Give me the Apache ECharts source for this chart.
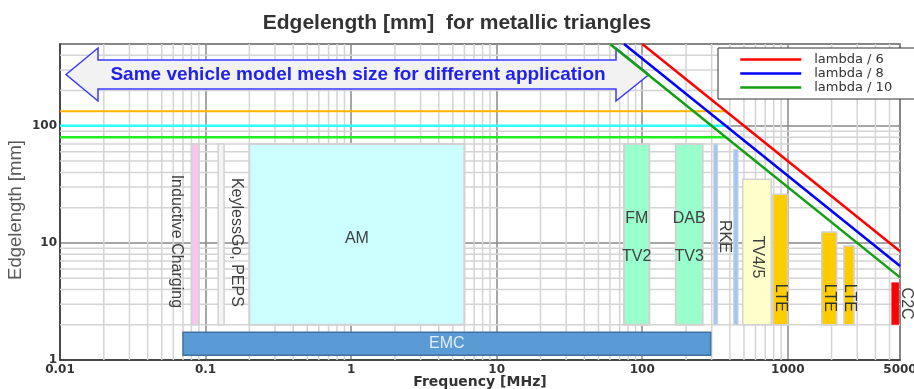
<!DOCTYPE html>
<html><head><meta charset="utf-8">
<script src="https://cdn.jsdelivr.net/npm/echarts@6/dist/echarts.min.js"></script>
<style>html,body{margin:0;padding:0;background:#fff}#c{width:914px;height:389px}</style>
</head><body><div id="c"></div>
<script>
// ---- axis data ----
const xTickLabels = ['0.01', '0.1', '1', '10', '100', '1000', '5000'];
const yTickLabels = ['1', '10', '100'];
const xMin = 0.01, xMax = 5900, yMin = 1, yMax = 500;

// ---- lambda lines [frequency MHz, edge length mm] ----
const lambda6 = [[100, 500], [5900, 8.5]];
const lambda8 = [[75, 500], [5900, 6.36]];
const lambda10 = [[60, 500], [5900, 5.08]];
// ---- horizontal mesh-size lines ----
const meshOrange = [[0.01, 133], [375, 133]];
const meshCyan = [[0.01, 100], [375, 100]];
const meshGreen = [[0.01, 80], [375, 80]];

// ---- application bands ----
const bandLabels = ['Inductive Charging', 'KeylessGo, PEPS', 'AM', 'FM\nTV2', 'DAB\nTV3', 'RKE', '', 'TV4/5', 'LTE', 'LTE', 'LTE', 'C2C', 'EMC'];
const bandFrom   = [0.08, 0.122, 0.2, 75, 170, 310, 425, 490, 790, 1710, 2430, 5150, 0.07];
const bandTo     = [0.09, 0.134, 6, 112, 260, 330, 455, 770, 1000, 2170, 2850, 5800, 295];
const bandBottom = [2, 2, 2, 2, 2, 2, 2, 2, 2, 2, 2, 2, 1.1];
const bandTop    = [70, 70, 70, 70, 70, 70, 63, 35, 26, 12.4, 9.4, 4.6, 1.73];

// ---- minor grid values ----
const xMinorGrid = [0.02, 0.03, 0.04, 0.05, 0.06, 0.07, 0.08, 0.09,
  0.2, 0.3, 0.4, 0.5, 0.6, 0.7, 0.8, 0.9,
  2, 3, 4, 5, 6, 7, 8, 9,
  20, 30, 40, 50, 60, 70, 80, 90,
  200, 300, 400, 500, 600, 700, 800, 900,
  2000, 3000, 4000, 5000];
const yMinorGrid = [2, 3, 4, 5, 6, 7, 8, 9, 20, 30, 40, 50, 60, 70, 80, 90, 200, 300, 400];

// ---- styles (not data) ----
const GRAY_B = '#d2d2d2';
const bandStyles = [
  {fill: '#f7c6ef', stroke: GRAY_B, lw: 1.5},
  {fill: '#f4f4f4', stroke: GRAY_B, lw: 1.5},
  {fill: '#ccffff', stroke: GRAY_B, lw: 2},
  {fill: '#99ffcc', stroke: GRAY_B, lw: 2},
  {fill: '#99ffcc', stroke: GRAY_B, lw: 2},
  {fill: '#9dc8f5', stroke: GRAY_B, lw: 1},
  {fill: '#9dc8f5', stroke: GRAY_B, lw: 1},
  {fill: '#ffffcc', stroke: GRAY_B, lw: 1.5},
  {fill: '#ffcc00', stroke: GRAY_B, lw: 1.5},
  {fill: '#ffcc00', stroke: GRAY_B, lw: 1.5},
  {fill: '#ffcc00', stroke: GRAY_B, lw: 1.5},
  {fill: '#ff0000', stroke: null, lw: 0},
  {fill: '#5b9bd5', stroke: '#41719c', lw: 1.5}
];
const labelPlacement = [
  {at: 'left', dx: -15, dy: 7, rot: true},
  {at: 'right', dx: 12, dy: 8, rot: true},
  {dy: 4},
  {dy: 3, lh: 38},
  {dy: 3, lh: 38},
  {at: 'right', dx: 7, dy: 2, rot: true},
  null,
  {dy: 5, rot: true},
  {fromBottom: 27, rot: true, color: '#333'},
  {fromBottom: 27, rot: true, color: '#333'},
  {fromBottom: 27, rot: true, color: '#333'},
  {at: 'right', dx: 7, dy: 0, rot: true},
  {dy: 0, color: '#e3eefa'}
];

function renderBand(params, api) {
  const i = params.dataIndex;
  const p0 = api.coord([api.value(0), api.value(3)]);
  const p1 = api.coord([api.value(1), api.value(2)]);
  const x = p0[0], y = p0[1], w = p1[0] - p0[0], h = p1[1] - p0[1];
  const st = bandStyles[i];
  const children = [{
    type: 'rect', shape: {x: x, y: y, width: w, height: h},
    style: {fill: st.fill, stroke: st.stroke, lineWidth: st.lw}
  }];
  const lab = bandLabels[i];
  const L = labelPlacement[i];
  if (lab && L) {
    let cx, cy;
    if (L.at === 'left') cx = x + L.dx;
    else if (L.at === 'right') cx = x + w + L.dx;
    else cx = x + w / 2 + (L.dx || 0);
    if (L.fromBottom) cy = y + h - L.fromBottom;
    else cy = y + h / 2 + (L.dy || 0);
    children.push({
      type: 'text', x: cx, y: cy, rotation: L.rot ? -Math.PI / 2 : 0,
      style: {
        text: lab, fill: L.color || '#404040', fontSize: 16,
        fontFamily: '"Liberation Sans", Arial, sans-serif',
        align: 'center', verticalAlign: 'middle', lineHeight: L.lh || 18
      }
    });
  }
  return {type: 'group', children: children};
}

// grid lines drawn through the axes' scales
function renderVGrid(params, api) {
  const cs = params.coordSys;
  const px = api.coord([api.value(0), yMin])[0];
  return {type: 'line', shape: {x1: px, y1: cs.y, x2: px, y2: cs.y + cs.height},
    style: {stroke: '#d4d4d4', lineWidth: 1.5}};
}
function renderHGrid(params, api) {
  const cs = params.coordSys;
  const py = api.coord([xMin, api.value(1)])[1];
  return {type: 'line', shape: {x1: cs.x, y1: py, x2: cs.x + cs.width, y2: py},
    style: {stroke: '#d4d4d4', lineWidth: 1.5}};
}

function xLabel(v) {
  if (v > 4000) return xTickLabels[xTickLabels.length - 1];
  const idx = Math.round(Math.log10(v)) + 2;
  const target = Math.pow(10, idx - 2);
  if (Math.abs(v / target - 1) < 0.01) return xTickLabels[idx] || '';
  return '';
}
function yLabel(v) {
  const idx = Math.round(Math.log10(v));
  if (Math.abs(v / Math.pow(10, idx) - 1) < 0.01) return yTickLabels[idx] || '';
  return '';
}

const chart = echarts.init(document.getElementById('c'), null, {renderer: 'canvas'});
const lineCommon = {type: 'line', symbol: 'none', showSymbol: false, silent: true, z: 4};

chart.setOption({
  animation: false,
  backgroundColor: '#fff',
  title: {
    text: 'Edgelength [mm]  for metallic triangles', left: 'center', top: 8,
    textStyle: {fontSize: 21, fontWeight: 'bold', color: '#333', fontFamily: '"Liberation Sans", Arial, sans-serif'}
  },
  grid: {left: 60, right: 14, top: 44, bottom: 29, containLabel: false, outerBoundsMode: 'none',
    show: true, borderColor: '#555', borderWidth: 1.5, backgroundColor: 'transparent'},
  legend: {
    orient: 'vertical', left: 718, top: 48, padding: [5, 40, 5, 21], itemGap: 1,
    itemWidth: 61, itemHeight: 13,
    backgroundColor: '#fff', borderColor: '#333', borderWidth: 1,
    itemStyle: {opacity: 0},
    lineStyle: {width: 2.5},
    data: ['lambda / 6', 'lambda / 8', 'lambda / 10'],
    formatter: function (n) { return '{g|}' + n; },
    textStyle: {fontFamily: '"DejaVu Sans", sans-serif', fontSize: 13, color: '#333', lineHeight: 13, rich: {g: {width: 8}}}
  },
  xAxis: {
    type: 'log', logBase: 10, min: xMin, max: xMax,
    axisLine: {show: true, lineStyle: {color: '#333', width: 1.5}},
    axisTick: {show: false},
    minorTick: {show: false},
    splitLine: {show: true, lineStyle: {color: '#888', width: 1.5}},
    axisLabel: {formatter: xLabel, margin: 4, color: '#333', fontFamily: '"DejaVu Sans", sans-serif', fontSize: 12, fontWeight: 'bold', showMinLabel: true, showMaxLabel: true, hideOverlap: false},
    name: 'Frequency [MHz]', nameLocation: 'middle', nameGap: 15, nameMoveOverlap: false,
    nameTextStyle: {fontFamily: '"DejaVu Sans", sans-serif', fontSize: 14, fontWeight: 'bold', color: '#333'}
  },
  yAxis: {
    type: 'log', logBase: 10, min: yMin, max: yMax,
    axisLine: {show: true, lineStyle: {color: '#333', width: 1.5}},
    axisTick: {show: false},
    splitLine: {show: true, lineStyle: {color: '#888', width: 1.5}},
    axisLabel: {formatter: yLabel, margin: 3, color: '#333', fontFamily: '"DejaVu Sans", sans-serif', fontSize: 12, fontWeight: 'bold', showMaxLabel: false},
    name: 'Edgelength [mm]', nameLocation: 'middle', nameGap: 35, nameMoveOverlap: false,
    nameTextStyle: {fontFamily: '"Liberation Sans", Arial, sans-serif', fontSize: 18.5, color: '#595959', padding: [0, 16, 0, 0]}
  },
  graphic: [
    {type: 'polygon', z: 2, silent: true,
     shape: {points: [[66, 74.5], [98, 48], [98, 60], [616, 60], [616, 48], [649, 74.5], [616, 101], [616, 89], [98, 89], [98, 101]]},
     style: {fill: '#f2f2f2', stroke: '#3a3aff', lineWidth: 1.5}},
    {type: 'text', z: 3, silent: true, x: 358, y: 75,
     style: {text: 'Same vehicle model mesh size for different application', align: 'center', verticalAlign: 'middle',
       fill: '#1f1fee', fontSize: 19, fontWeight: 'bold', fontFamily: '"Liberation Sans", Arial, sans-serif'}}
  ],
  series: [
    {type: 'custom', name: 'vgrid', z: 1, silent: true, renderItem: renderVGrid, clip: false,
     encode: {x: 0, y: 1}, data: xMinorGrid.map(function (v) { return [v, yMin]; })},
    {type: 'custom', name: 'hgrid', z: 1, silent: true, renderItem: renderHGrid, clip: false,
     encode: {x: 0, y: 1}, data: yMinorGrid.map(function (v) { return [xMin, v]; })},
    {type: 'custom', name: 'bands', z: 3, silent: true, renderItem: renderBand,
     encode: {x: [0, 1], y: [2, 3]},
     data: bandFrom.map(function (f, i) { return [f, bandTo[i], bandBottom[i], bandTop[i]]; })},
    Object.assign({name: 'mesh orange', data: meshOrange, lineStyle: {color: '#ffb300', width: 2}}, lineCommon),
    Object.assign({name: 'mesh cyan', data: meshCyan, lineStyle: {color: '#33ffff', width: 2.5}}, lineCommon),
    Object.assign({name: 'mesh green', data: meshGreen, lineStyle: {color: '#22ee22', width: 2.5}}, lineCommon),
    Object.assign({name: 'lambda / 6', data: lambda6, color: '#ff0000', lineStyle: {color: '#ff0000', width: 2.5}}, lineCommon),
    Object.assign({name: 'lambda / 8', data: lambda8, color: '#0000ff', lineStyle: {color: '#0000ff', width: 2.5}}, lineCommon),
    Object.assign({name: 'lambda / 10', data: lambda10, color: '#11a011', lineStyle: {color: '#11a011', width: 2.5}}, lineCommon)
  ]
});
</script>
</body></html>
